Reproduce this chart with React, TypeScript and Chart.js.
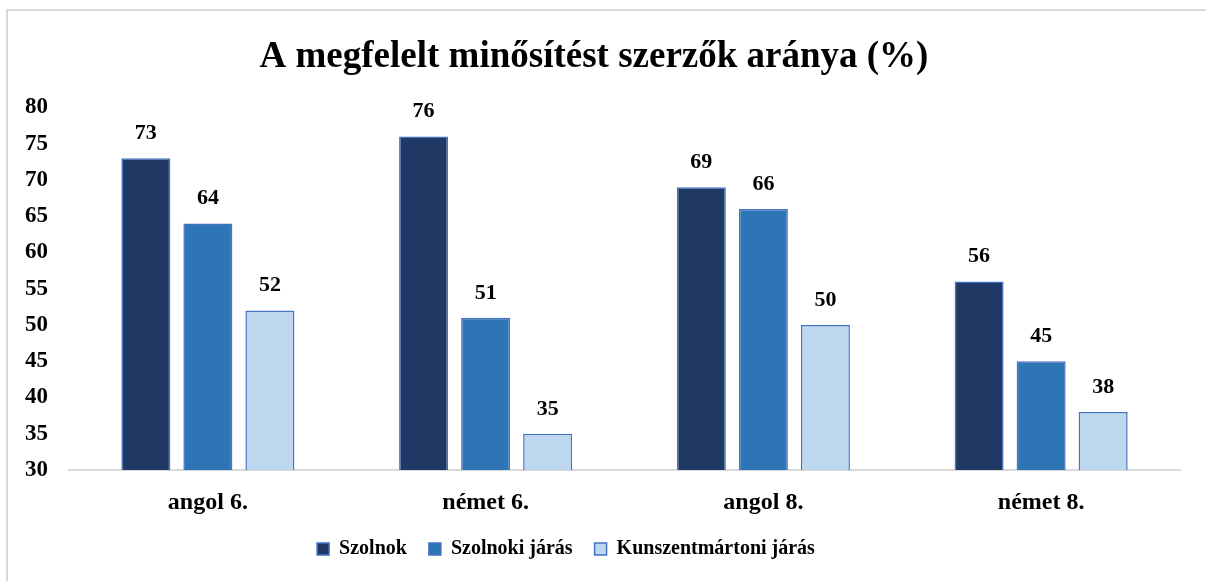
import React, { useEffect, useRef } from "react";
import { Chart, registerables } from "chart.js";

Chart.register(...registerables);

const categories = ["angol 6.", "német 6.", "angol 8.", "német 8."];
const szolnok = [73, 76, 69, 56];
const szolnokiJaras = [64, 51, 66, 45];
const kunszentmartoniJaras = [52, 35, 50, 38];
const seriesNames = ["Szolnok", "Szolnoki járás", "Kunszentmártoni járás"];
const seriesColors = ["#1F3864", "#2E75B6", "#BDD7EE"];
const titleText = "A megfelelt minősítést szerzők aránya (%)";

const FONT = '"Liberation Serif", "Times New Roman", serif';

const valueLabels = {
  id: "valueLabels",
  afterDatasetsDraw(chart: any) {
    const ctx = chart.ctx;
    ctx.save();
    ctx.font = `bold 22px ${FONT}`;
    ctx.fillStyle = "#000";
    ctx.textAlign = "center";
    ctx.textBaseline = "alphabetic";
    chart.data.datasets.forEach((ds: any, i: number) => {
      const meta = chart.getDatasetMeta(i);
      meta.data.forEach((el: any, j: number) => {
        ctx.fillText(String(ds.data[j]), el.x, el.y - 19);
      });
    });
    ctx.restore();
  },
};

// shift the legend block slightly left, as in the reference
const legendShift = {
  id: "legendShift",
  afterLayout(chart: any) {
    if (chart.legend) {
      chart.legend.right -= 56;
    }
  },
};

export default function App() {
  const ref = useRef<HTMLCanvasElement>(null);
  useEffect(() => {
    document.body.style.margin = "0";
    const data = [szolnok, szolnokiJaras, kunszentmartoniJaras];
    const chart = new Chart(ref.current!, {
      type: "bar",
      data: {
        labels: categories,
        datasets: data.map((d, i) => ({
          label: seriesNames[i],
          data: d,
          backgroundColor: seriesColors[i],
          borderColor: "#4472C4",
          borderWidth: 1.5,
          categoryPercentage: 0.67,
          barPercentage: 0.79,
        })),
      },
      options: {
        animation: false,
        responsive: false,
        maintainAspectRatio: false,
        layout: { padding: { top: 12, left: 8, right: 26, bottom: 12 } },
        plugins: {
          title: {
            display: true,
            text: titleText,
            color: "#000",
            font: { family: FONT, size: 37, weight: "bold" },
            padding: { top: 23, bottom: 28 },
          },
          legend: {
            display: true,
            position: "bottom",
            labels: {
              color: "#000",
              font: { family: FONT, size: 20, weight: "bold" },
              boxWidth: 12,
              boxHeight: 12,
              padding: 22,
            },
          },
          tooltip: { enabled: false },
        },
        scales: {
          x: {
            grid: { display: false },
            border: { display: true, color: "#D9D9D9", width: 2 },
            ticks: {
              color: "#000",
              font: { family: FONT, size: 24, weight: "bold" },
              padding: 10,
            },
            afterFit(scale: any) {
              scale.height = 47;
            },
          },
          y: {
            min: 30,
            max: 80,
            grid: { display: false },
            border: { display: false },
            ticks: {
              stepSize: 5,
              color: "#000",
              font: { family: FONT, size: 23, weight: "bold" },
              padding: 13,
            },
            afterFit(scale: any) {
              scale.width = 61;
            },
          },
        },
      },
      plugins: [valueLabels, legendShift],
    });
    return () => chart.destroy();
  }, []);
  return (
    <div style={{ position: "relative", width: 1206, height: 581 }}>
      <div
        style={{
          position: "absolute",
          left: 6,
          top: 9,
          right: 0,
          bottom: 0,
          borderTop: "2px solid #D9D9D9",
          borderLeft: "2px solid #D9D9D9",
        }}
      />
      <canvas ref={ref} width={1206} height={581} style={{ position: "absolute", left: 0, top: 0 }} />
    </div>
  );
}
